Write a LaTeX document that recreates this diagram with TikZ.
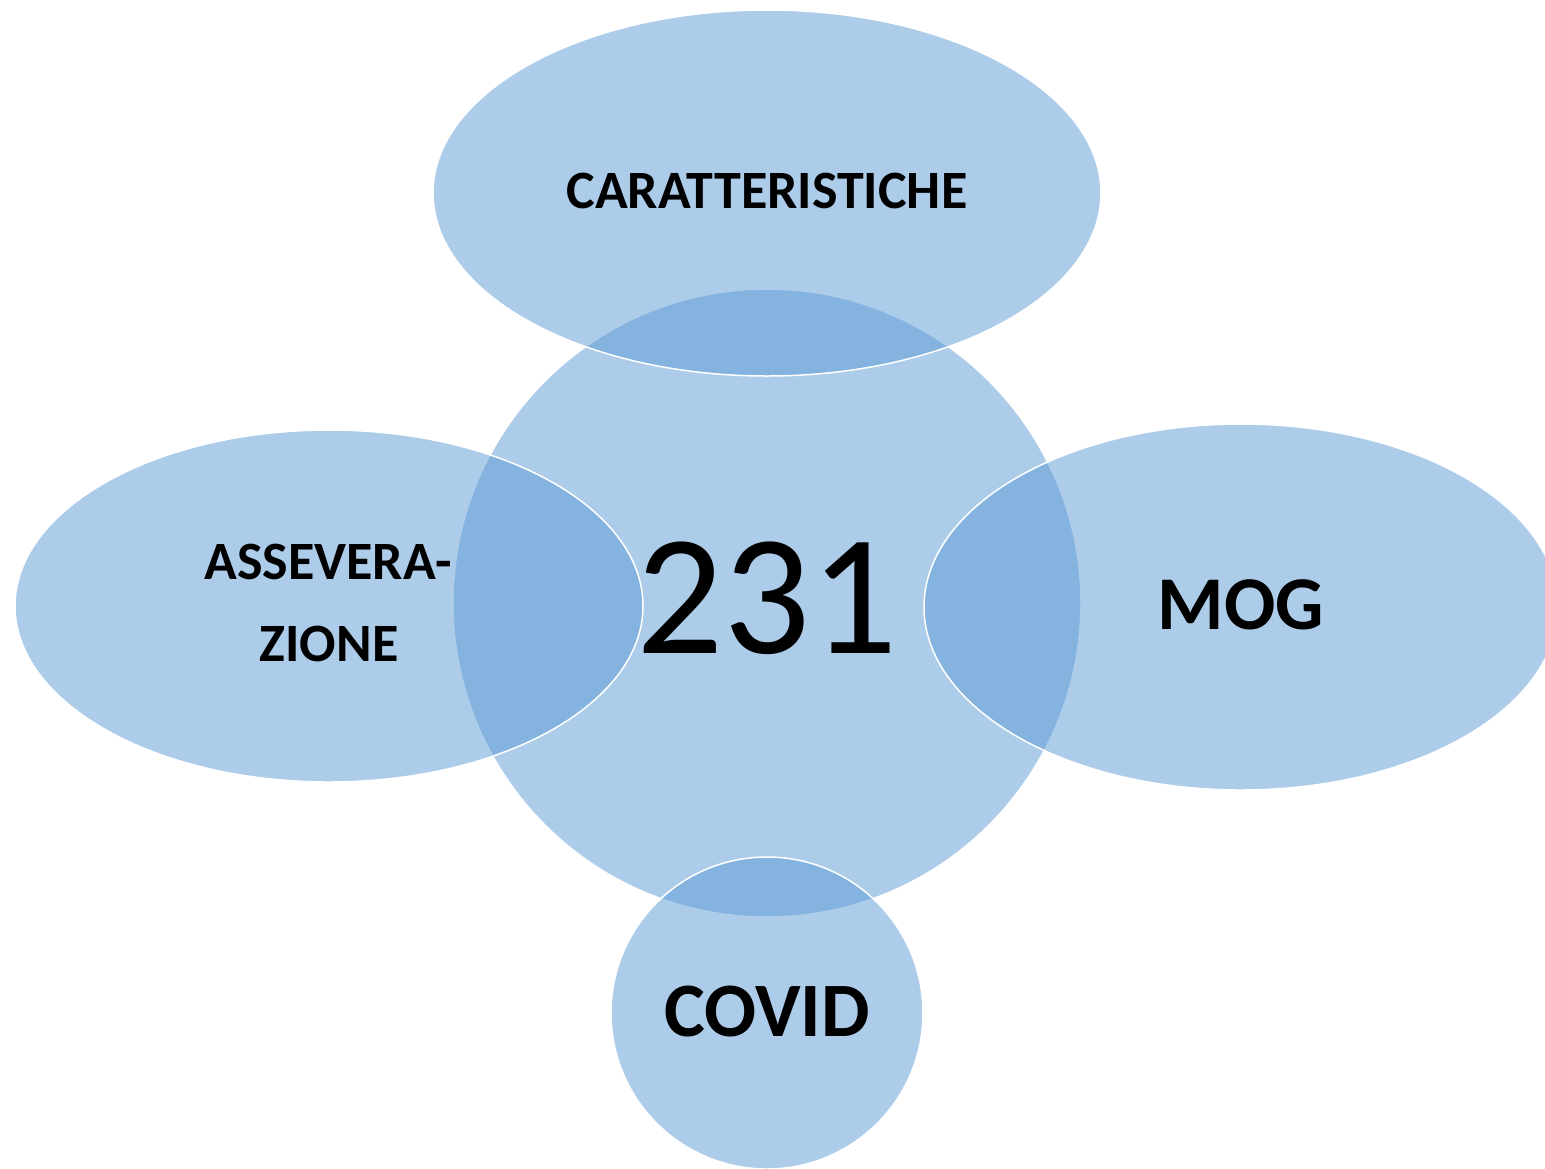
\documentclass[tikz,border=0pt]{standalone}
\usepackage{fontspec}
\setmainfont{Carlito}
\definecolor{accent}{HTML}{5B9BD5}
\begin{document}
\begin{tikzpicture}[x=1pt,y=-1pt,
  blob/.style={fill=accent,fill opacity=0.5,draw=white,line width=1.5pt},
  lbl/.style={anchor=base,inner sep=0pt,font=\bfseries}]
\clip (0,0) rectangle (1545,1168);
\fill[white] (0,0) rectangle (1545,1168);
\path[blob] (767,603) circle[radius=314pt];
\path[blob] (767,193) ellipse[x radius=334pt,y radius=183pt];
\path[blob] (329,606) ellipse[x radius=314pt,y radius=176pt];
\path[blob] (1241,607) ellipse[x radius=317pt,y radius=183pt];
\path[blob] (767,1013) circle[radius=156pt];
\node[lbl,font=\bfseries\fontsize{54}{58}\selectfont] (car) at (767,208) {CARATTERISTICHE};
\node[lbl,font=\bfseries\fontsize{54}{58}\selectfont] (ass1) at (328,579) {ASSEVERA-};
\node[lbl,font=\bfseries\fontsize{54}{58}\selectfont] (ass2) at (329,661) {ZIONE};
\node[lbl,font=\bfseries\fontsize{76}{80}\selectfont] (mog) at (1241,629) {MOG};
\node[lbl,font=\bfseries\fontsize{77}{82}\selectfont] (cov) at (767,1036) {COVID};
\node[lbl,font=\fontsize{172}{180}\selectfont] (num) at (767,653) {231};
\end{tikzpicture}
\end{document}
